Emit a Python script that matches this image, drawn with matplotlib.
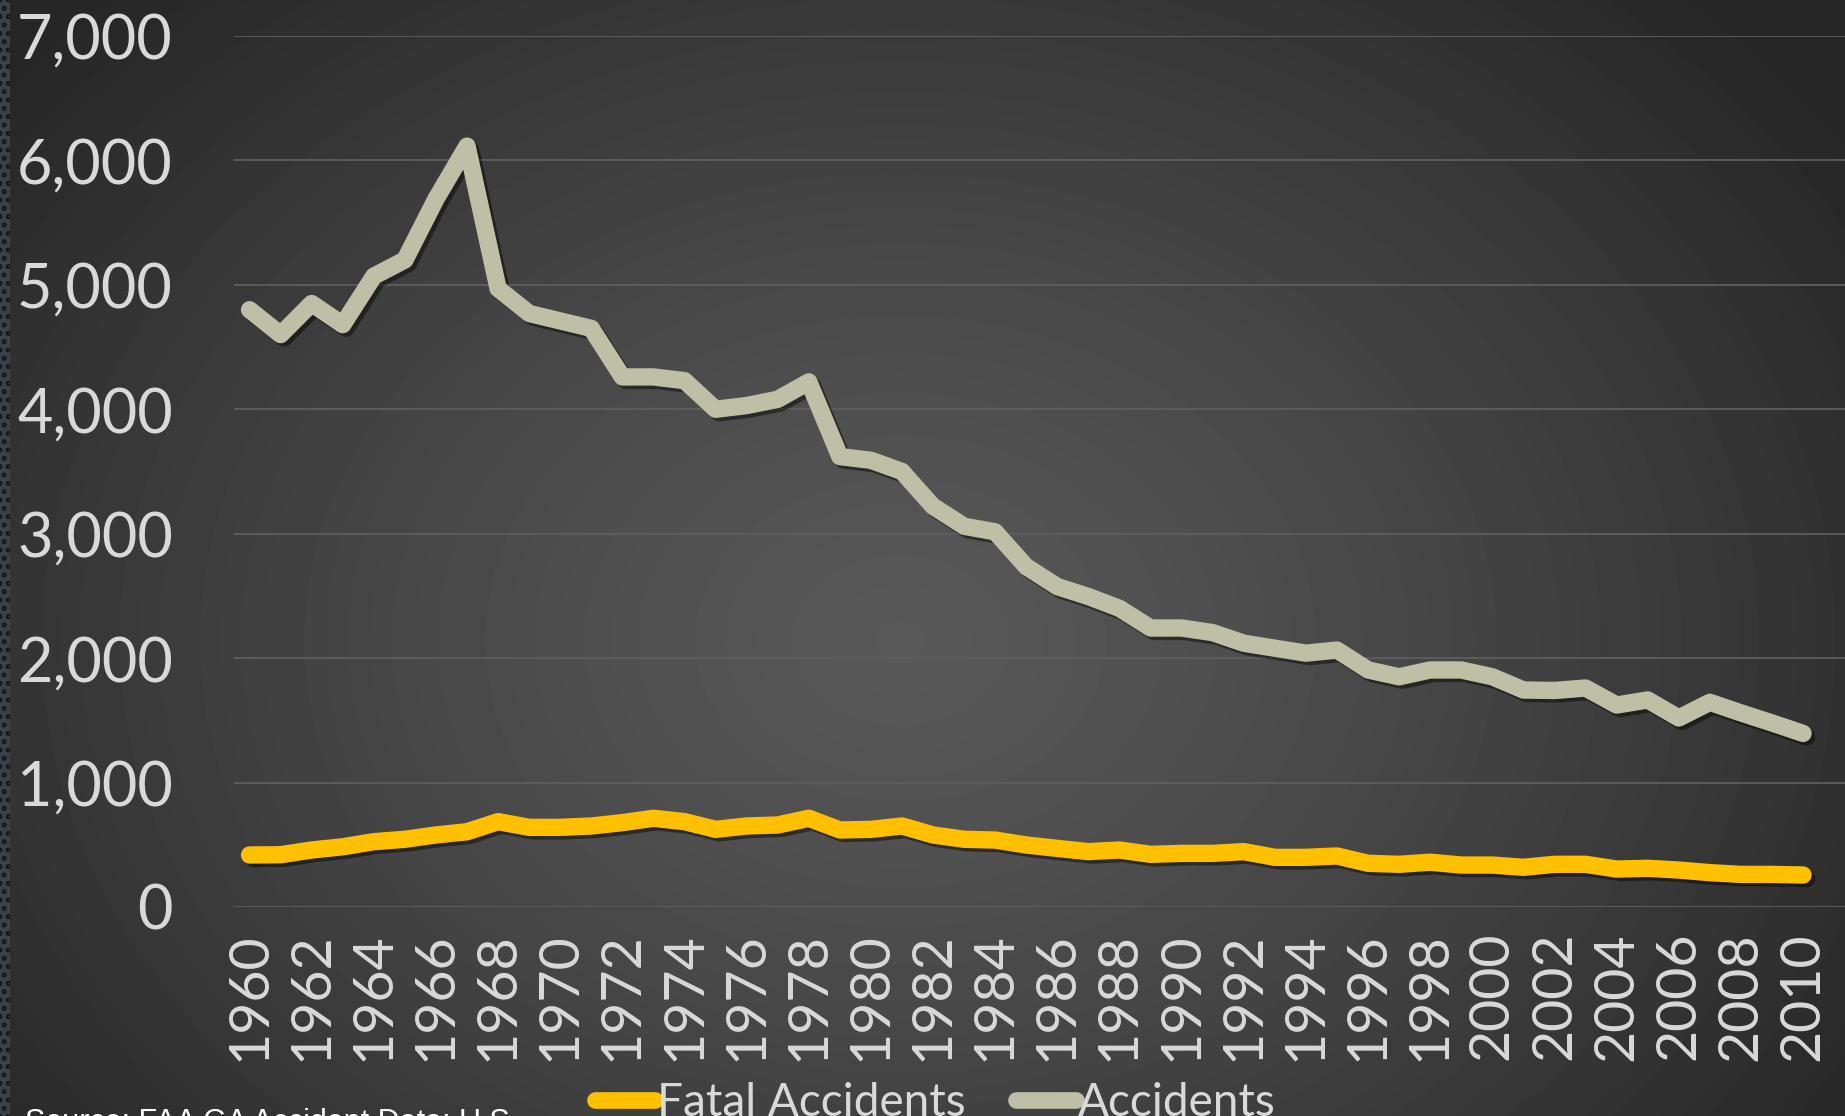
import numpy as np
import matplotlib
matplotlib.use("Agg")
import matplotlib.pyplot as plt
import matplotlib.patheffects as pe
from matplotlib.patches import Rectangle
from matplotlib.ticker import FuncFormatter

years = list(range(1960, 2011))
accidents = [4800, 4600, 4850, 4680, 5070, 5200, 5690, 6115, 4970, 4770,
             4710, 4650, 4260, 4260, 4230, 4000, 4030, 4080, 4220, 3620,
             3590, 3500, 3220, 3060, 3015, 2735, 2575, 2495, 2400, 2242,
             2242, 2205, 2120, 2080, 2040, 2065, 1905, 1850, 1905, 1905,
             1850, 1744, 1740, 1760, 1623, 1664, 1519, 1645, 1560, 1479,
             1395]
fatal = [418, 420, 458, 484, 525, 544, 579, 605, 686, 640,
         640, 651, 678, 713, 686, 624, 651, 659, 713, 619,
         624, 651, 579, 544, 538, 498, 471, 445, 458, 423,
         431, 431, 445, 399, 399, 410, 351, 343, 360, 337,
         337, 319, 343, 343, 305, 311, 297, 276, 262, 262,
         257]
year_ticks = list(range(1960, 2011, 2))

FONT = ["Lato", "DejaVu Sans"]
TEXT_COLOR = "#d9d9d9"

fig = plt.figure(figsize=(18.45, 11.16), dpi=100)

# background: soft radial gradient
bg = fig.add_axes([0, 0, 1, 1], zorder=-10)
h, w = 1116, 1845
yy, xx = np.mgrid[0:h, 0:w]
r = np.sqrt(((xx - 900) / 1150.0) ** 2 + ((yy - 640) / 900.0) ** 2)
shade = 88 - 50 * np.clip(r, 0, 1) ** 1.3
bg.imshow(shade, cmap="gray", vmin=0, vmax=255, aspect="auto",
          extent=[0, 1, 0, 1], origin="upper")
bg.add_patch(Rectangle((0, 0), 10 / w, 1, transform=bg.transAxes,
                       facecolor="#3b4148", edgecolor="#15181b",
                       hatch="oo", linewidth=0))
bg.set_axis_off()

ax = fig.add_axes([234 / w, 1 - 907 / h, (w - 234) / w, (907 - 36) / h])
ax.set_facecolor("none")

shadow = [pe.SimpleLineShadow(offset=(2.5, -2.5), shadow_color="black", alpha=0.45),
          pe.Normal()]
ax.plot(years, fatal, color="#ffc000", linewidth=12.5, solid_capstyle="round",
        solid_joinstyle="round", label="Fatal Accidents", path_effects=shadow, zorder=3)
ax.plot(years, accidents, color="#bfbfa5", linewidth=12.5, solid_capstyle="round",
        solid_joinstyle="round", label="Accidents", path_effects=shadow, zorder=3)

ax.set_xlim(1959.5, 2011.35)
ax.set_ylim(0, 7000)
ax.set_yticks(range(0, 7001, 1000))
ax.yaxis.set_major_formatter(FuncFormatter(lambda v, p: f"{int(v):,}"))
ax.set_xticks(year_ticks)
ax.set_xticklabels([str(y) for y in year_ticks], rotation=90)
ax.tick_params(axis="both", length=0, colors=TEXT_COLOR)
ax.tick_params(axis="y", pad=44, labelsize=44)
ax.tick_params(axis="x", pad=18, labelsize=40)
for lab in ax.get_xticklabels() + ax.get_yticklabels():
    lab.set_family(FONT)

ax.grid(axis="y", color="#5e5e5e", linewidth=1.3)
ax.set_axisbelow(True)
for s in ax.spines.values():
    s.set_visible(False)

leg = fig.legend(loc="center", bbox_to_anchor=(0.507, 0.012), ncol=2, frameon=False,
                 prop={"family": FONT, "size": 33},
                 handlelength=1.3, handletextpad=0.05, columnspacing=1.1)
for t in leg.get_texts():
    t.set_color(TEXT_COLOR)
for line in leg.get_lines():
    line.set_linewidth(12)
    line.set_path_effects([])

fig.text(25 / w, 1 - 1108 / h, "Source: FAA GA Accident Data: U.S.", color="white",
         fontsize=22, family=["Liberation Sans", "DejaVu Sans"], va="top", ha="left")

fig.savefig("out.png", dpi=100)
